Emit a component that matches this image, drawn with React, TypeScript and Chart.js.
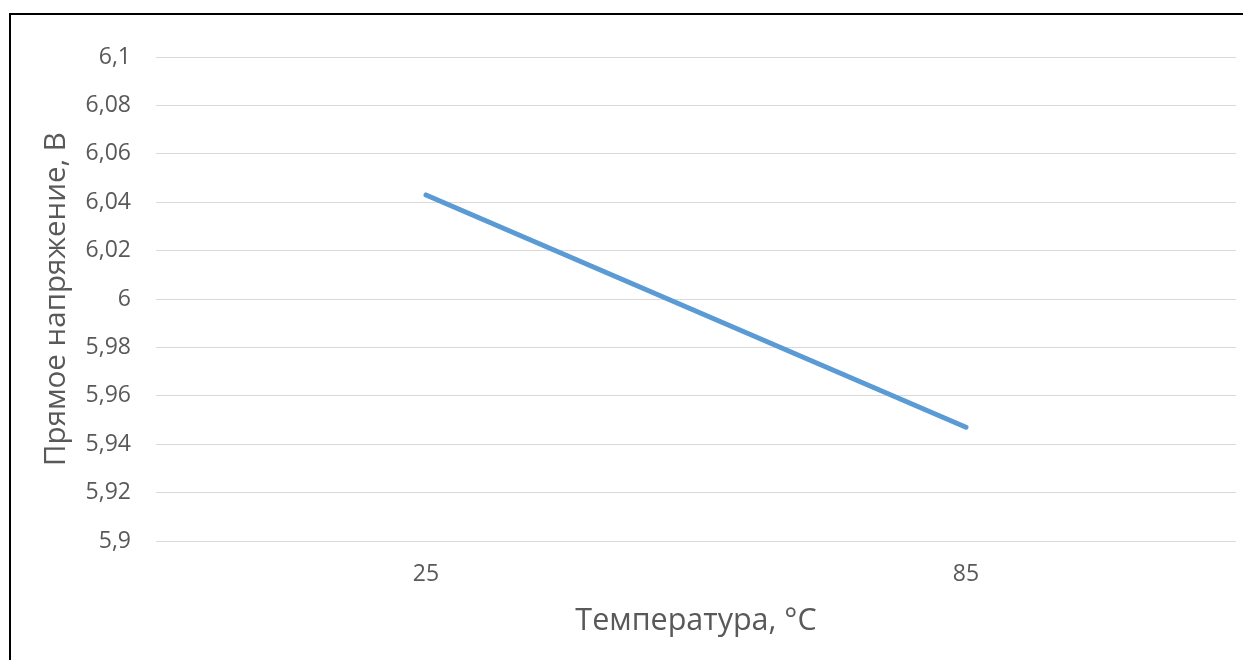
import React, { useEffect, useRef } from "react";
import { Chart, registerables } from "chart.js";

Chart.register(...registerables);

// Forward voltage of the diode against temperature
const temperatures = ["25", "85"];
const forwardVoltage = [6.043, 5.947];

const Y_MIN = 5.9;
const Y_MAX = 6.1;
const Y_STEP = 0.02;

const TEXT_COLOR = "#595959";
const GRID_COLOR = "#d9d9d9";
const LINE_COLOR = "#5B9BD5";
const FONT = "'Open Sans', 'Noto Sans', sans-serif";

const formatComma = (v: number) =>
  String(Number(v.toFixed(2))).replace(".", ",");

export default function App() {
  const canvasRef = useRef<HTMLCanvasElement | null>(null);

  useEffect(() => {
    if (!canvasRef.current) return;
    const chart = new Chart(canvasRef.current, {
      type: "line",
      data: {
        labels: temperatures,
        datasets: [
          {
            data: forwardVoltage,
            borderColor: LINE_COLOR,
            backgroundColor: LINE_COLOR,
            borderWidth: 5,
            borderCapStyle: "round",
            pointRadius: 0,
            tension: 0,
          },
        ],
      },
      options: {
        responsive: true,
        maintainAspectRatio: false,
        animation: false,
        layout: { padding: { left: 12, right: 7, top: 57, bottom: 0 } },
        plugins: {
          legend: { display: false },
          tooltip: { enabled: false },
        },
        scales: {
          x: {
            type: "category",
            offset: true,
            grid: { display: false, drawTicks: false },
            border: { display: false },
            ticks: {
              color: TEXT_COLOR,
              font: { family: FONT, size: 23 },
              padding: 20,
              maxRotation: 0,
            },
            title: {
              display: true,
              text: "Температура, °C",
              color: TEXT_COLOR,
              font: { family: FONT, size: 30.5 },
              padding: { top: 0, bottom: 20 },
            },
            afterFit: (scale: any) => {
              scale.height = 119;
            },
          },
          y: {
            min: Y_MIN,
            max: Y_MAX,
            grid: { color: GRID_COLOR, lineWidth: 1, drawTicks: false },
            border: { display: false },
            ticks: {
              stepSize: Y_STEP,
              color: TEXT_COLOR,
              font: { family: FONT, size: 23 },
              padding: 25,
              callback: (v: any) => formatComma(Number(v)),
            },
            title: {
              display: true,
              text: "Прямое напряжение, В",
              color: TEXT_COLOR,
              font: { family: FONT, size: 29.5 },
              padding: { top: 27, bottom: 0 },
            },
            afterFit: (scale: any) => {
              scale.width = 144;
            },
          },
        },
      },
    });
    return () => chart.destroy();
  }, []);

  return (
    <div
      style={{
        position: "fixed",
        left: 0,
        top: 0,
        width: 1243,
        height: 660,
        background: "#ffffff",
        overflow: "hidden",
      }}
    >
      <div
        style={{
          position: "absolute",
          left: 9,
          top: 13,
          width: 1300,
          height: 700,
          borderTop: "2px solid #000",
          borderLeft: "2px solid #000",
          boxSizing: "border-box",
        }}
      />
      <div style={{ position: "absolute", left: 0, top: 0, width: 1243, height: 660 }}>
        <canvas ref={canvasRef} />
      </div>
    </div>
  );
}
